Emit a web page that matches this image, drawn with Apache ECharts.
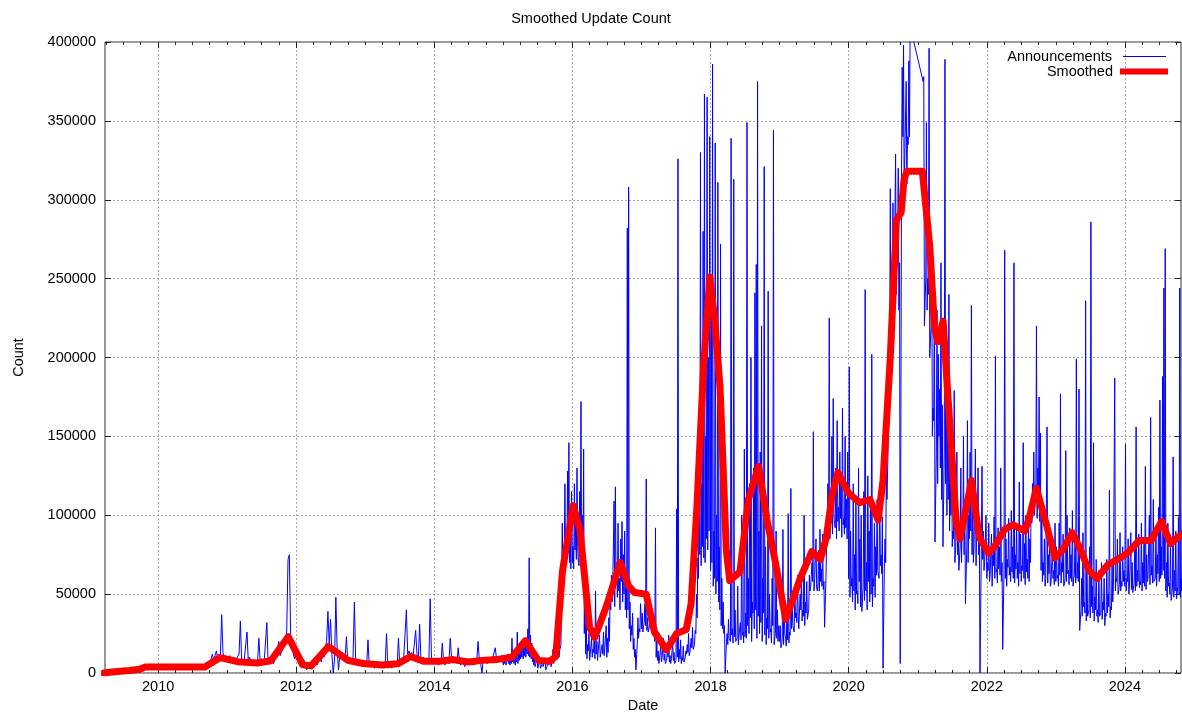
<!DOCTYPE html>
<html lang="en">
<head>
    <meta charset="UTF-8">
    <title>Smoothed Update Count</title>
    <script src="https://cdn.jsdelivr.net/npm/echarts@6/dist/echarts.min.js"></script>
    <style>
        html, body { margin: 0; padding: 0; background: #fff; }
        #box { width: 1182px; height: 716px; }
    </style>
</head>
<body>
    <div id="box"></div>
</body>
<script>
    // counts are in thousands, weekly samples (one value every 7 days)
    var blue2009 = [0.5,1.2,0.8,1.6,1.0,2.2,0.9,1.5,2.4,1.1, 1.9,0.8,1.7,2.6,1.3,2.0,1.1,2.8,1.5,2.2,
        1.2,1.8,3.0,1.4,2.3,1.6,3.2,1.9,2.5,1.3, 3.1,3.4,2.2,3.6,2.8,4.0,3.0,3.5,2.8,3.7]
    var blue2010 = [3.5,4,3,4.5,3.5,4,3,4,3.5,4.5, 3,4,3.5,4,3,4.5,4,3.5,4,3, 4.5,3.5,4,3,4,3.5,4.5,3,4,3.5,
        4,3,4.5,4,3.5,4,4.5,5,4, 6,9,12,8,11,14,9,12,10,37,13,9,11]
    var blue2011 = [9,7,11,8,6,10,7,9,8,12, 33,7,6,9,8,26,7,10,6,8, 9,6,7,8,22,6,9,5,7,8,
        32,6,8,7,9,6,8,10,9,20, 11,13,15,18,21,26,72,75,24,17, 12,9]
    var blue2012 = [14,9,6,4,3,5,8,4,2,6, 5,3,7,4,6,9,5,8,12,7, 14,10,16,20,39,18,34,12,0,8,
        48,14,2,11,9,13,8,10,23,7, 9,6,8,10,45,7,6,8,5,7, 6,5]
    var blue2013 = [6,5,21,4,6,5,7,3,5,6, 4,5,7,4,5,6,25,4,6,5, 3,6,5,7,4,22,6,8,7,10,
        9,40,12,14,11,13,10,9,27,12, 8,31,9,7,10,6,8,9,7,47, 8,6]
    var blue2014 = [7,6,9,5,8,6,19,7,5,9, 8,6,22,10,8,7,9,6,16,7, 5,8,6,4,7,5,9,6,8,7,
        5,9,7,20,8,6,0,9,7,8, 6,9,8,7,9,8,16,9,8,10, 9,11]
    var blue2015 = [9,11,8,12,10,9,22,11,13,10, 26,12,15,14,18,16,22,20,28,73, 24,19,12,8,6,9,5,7,4,8,
        6,9,3,7,8,10,6,15,9,21, 12,27,14,18,95,70,120,85,128,146, 90,115]
    var blue2016 = [80,120,95,130,70,115,172,100,142,60, 30,18,25,12,22,15,28,52,20,14, 24,11,18,26,16,30,22,35,48,62,
        55,109,118,70,95,60,85,96,75,90, 60,282,308,45,30,38,22,15,2,35, 28,44]
    var blue2017 = [38,30,44,123,35,28,40,32,26,36, 92,20,14,8,18,10,22,12,7,16, 24,11,9,19,13,6,104,326,15,21,
        10,17,8,14,18,25,13,22,29,16, 27,50,73,150,330,120,280,367,150,365, 200,340]
    var blue2018 = [250,386,90,336,100,311,80,272,60,45, 30,0,25,34,22,339,28,313,40,20, 55,24,32,100,26,142,38,349,60,120,
        200,45,130,241,259,375,90,140,220,60, 321,80,35,242,50,28,60,344,22,90, 40,30]
    var blue2019 = [30,18,91,40,22,35,101,26,117,44, 30,55,38,62,28,50,65,40,100,45, 58,34,62,55,70,153,60,85,52,78,
        91,66,88,58,29,80,120,225,110,150, 174,95,130,160,105,140,120,168,98,150, 110,140]
    var blue2020 = [194,90,60,120,75,110,52,130,85,100, 39,115,243,70,125,90,105,202,60,95, 80,110,65,120,75,99,3,85,130,110,
        180,307,220,298,250,329,280,320,260,6, 384,398,330,375,340,388,410,null,null,null, null,null]
    var blue2021 = [null,null,null,null,378,220,349,250,396,200, 272,168,250,83,230,202,180,260,170,80, 389,200,150,240,120,168,90,179,78,140,
        100,65,130,90,150,110,44,160,100,140, 233,120,80,142,95,130,85,0,131,90, 70,100]
    var blue2022 = [70,95,62,88,75,99,201,66,92,80, 130,70,15,268,85,72,98,67,103,80, 260,75,95,70,121,88,68,146,82,100,
        72,95,85,110,120,140,115,220,130,175, 152,110,70,85,60,156,75,89,57,80, 65,95]
    var blue2023 = [80,62,95,177,70,88,57,141,100,65, 92,75,103,60,85,199,70,180,27,60, 89,45,236,70,36,80,286,55,146,48,
        72,40,65,36,70,45,60,38,72,50, 116,42,68,55,187,60,85,52,89,58, 80,65]
    var blue2024 = [145,60,85,55,89,70,51,80,156,65, 88,58,95,70,84,131,75,60,100,162, 68,110,57,90,75,105,173,80,188,244,
        269,70,95,57,85,46,137,65,90,50, 99,244,60,105]

    // weekly lows of the busy years (thousands), drawn half a week before each value above
    var low2015 = [5,6,5,7,6,5,6,7,6,5, 7,6,8,9,10,9,11,10,12,11, 10,9,7,5,4,5,3,4,3,5,
        4,5,2,4,5,6,4,8,6,10, 9,12,10,14,60,65,72,68,75,80, 70,66]
    var low2016 = [70,66,78,72,80,68,75,70,62, 25,12,9,14,8,11,10,13,9,12, 8,14,10,9,12,11,15,10,13,20,
        40,45,55,42,60,48,52,40,58,45,50,40, 35,40,28,20,24,15,10,2,18,22,26]
    var low2017 = [28,26,32,30,27,26,30,28,25,29, 20,10,8,6,9,7,11,8,6,9, 10,7,6,9,8,6,8,10,7,9,
        6,8,7,10,12,13,11,14,16,15, 18,25,35,60,75,68,80,73,70,85, 78,90]
    var low2018 = [65,70,55,60,50,58,45,40,30,28, 25,0,20,18,22,20,24,19,23,20, 22,18,25,21,24,19,23,22,30,25,
        35,20,38,28,40,22,36,25,32,20, 38,24,18,28,22,26,19,30,18,25, 22,20]
    var low2019 = [20,16,22,18,25,17,21,19,24,28, 30,26,35,32,38,28,40,33,36,30, 38,34,40,52,55,58,52,60,54,57,
        52,58,55,53,29,60,82,90,85,95, 88,100,92,85,96,90,98,86,94,88, 92,85]
    var low2020 = [60,48,55,45,52,40,50,44,58,42, 39,55,46,52,40,58,45,50,42,55, 48,62,65,60,68,63,3,66,70,110,
        150,200,180,230,210,250,240,260,230,6, 320,340,300,330,310,335,340,null,null,null, null,null]
    var low2021 = [null,null,null,null,375,220,250,230,240,200, 220,150,160,83,140,120,150,130,110,80,
        140,120,100,110,90,100,80,85,70,90, 75,65,80,70,85,75,44,80,70,85, 90,75,70,80,68,85,75,0,80,72, 65,70]
    var low2022 = [60,65,58,62,55,68,60,64,57,66, 62,58,15,65,60,55,67,62,58,64, 60,57,66,60,55,63,58,65,60,56,
        64,60,58,70,95,105,100,110,98,105, 96,65,58,62,55,60,57,63,55,58, 60,56]
    var low2023 = [58,60,55,62,57,64,55,60,58,63, 56,60,58,55,62,57,60,58,27,40, 36,42,38,33,36,40,35,42,38,33,
        40,36,32,36,38,34,40,30,36,38, 42,35,40,45,55,52,58,50,56,52, 55,58]
    var low2024 = [55,52,58,50,56,53,51,57,52,55, 58,54,56,52,57,55,53,58,60,56, 62,57,58,60,55,63,58,60,62,65,
        60,52,48,55,50,46,54,48,52,47, 55,50,48,52]

    // smoothed curve, in thousands
    var smoothDates = ['2009-03-20','2009-05-01','2009-08-01','2009-09-25','2009-10-25','2010-09-05','2010-11-25',
        '2011-02-25','2011-06-10','2011-08-20','2011-11-20','2012-02-05','2012-03-20','2012-06-20','2012-10-01',
        '2012-12-20','2013-04-01','2013-06-20','2013-08-28','2013-11-05','2014-01-30','2014-04-10','2014-07-01',
        '2014-09-10','2014-11-25','2015-02-15','2015-04-27','2015-07-05','2015-09-05','2015-10-05','2015-11-10',
        '2016-01-05','2016-02-10','2016-04-01','2016-04-28','2016-06-28','2016-09-10','2016-10-25','2016-11-25',
        '2017-01-25','2017-03-10','2017-05-12','2017-07-05','2017-08-25','2017-09-20','2017-10-20','2017-11-25',
        '2017-12-28','2018-01-22','2018-02-20','2018-03-25','2018-04-12','2018-06-05','2018-07-20','2018-09-12',
        '2018-10-28','2018-12-10','2019-02-02','2019-04-20','2019-06-20','2019-08-05','2019-09-05','2019-10-05',
        '2019-11-05','2020-01-01','2020-02-28','2020-04-23','2020-06-05','2020-07-01','2020-08-08','2020-09-10',
        '2020-10-05','2020-10-20','2020-11-05','2021-01-25','2021-03-05','2021-03-30','2021-04-16','2021-05-15',
        '2021-06-17','2021-07-23','2021-08-11','2021-09-13','2021-10-12','2021-11-22','2022-01-10','2022-02-10',
        '2022-04-05','2022-05-20','2022-07-20','2022-08-15','2022-09-20','2022-11-10','2022-12-28','2023-02-06',
        '2023-03-29','2023-05-05','2023-06-25','2023-08-08','2023-10-02','2023-11-22','2024-01-15','2024-03-17',
        '2024-05-19','2024-07-13','2024-08-30','2024-10-12','2024-11-01']
    var smoothK = [0,0.6,1.6,2.4,3.8,3.8,9.8,
        7.2,6.3,7.8,23,5.2,4.5,16.8,8,
        6,5,5.8,10.5,7.5,7.5,8.5,7,
        8,8.5,10,20.5,8,7.5,10.5,65,
        106,91,29,22.5,42,70,55,51,
        50,26,14.7,25,27.5,44,104,194,
        251,225,181,78,58.6,64,110,131,
        96,70,34,60,77,72,86,112,
        127,114,108,110,97,122,199,287,
        292,313,318,318,271,220,210,223,
        161,96,85,104,122,86,76,80,
        91,94,90,99,117,95,73,78,
        89,80,65,60,68.5,72,76,84,
        84,96,82,86.5,88]

    var yearLabels = ['2010','2012','2014','2016','2018','2020','2022','2024']
    var countTicks = [0,50000,100000,150000,200000,250000,300000,350000,400000]

    var DAY = 86400000
    var font = "'Liberation Sans', Arial, sans-serif"
    var xMin = Date.UTC(2009, 2, 26)
    var xMax = Date.UTC(2024, 9, 24)

    function parseDay(s) {
        var p = s.split('-')
        return Date.UTC(+p[0], +p[1] - 1, +p[2])
    }

    // [first week start, weekly values, weekly lows or null]
    var blueParts = [
        [Date.UTC(2009, 2, 26), blue2009, null], [Date.UTC(2010, 0, 1), blue2010, null],
        [Date.UTC(2011, 0, 1), blue2011, null], [Date.UTC(2012, 0, 1), blue2012, null],
        [Date.UTC(2013, 0, 1), blue2013, null], [Date.UTC(2014, 0, 1), blue2014, null],
        [Date.UTC(2015, 0, 1), blue2015, low2015], [Date.UTC(2016, 0, 1), blue2016, low2016],
        [Date.UTC(2017, 0, 1), blue2017, low2017], [Date.UTC(2018, 0, 1), blue2018, low2018],
        [Date.UTC(2019, 0, 1), blue2019, low2019], [Date.UTC(2020, 0, 1), blue2020, low2020],
        [Date.UTC(2021, 0, 1), blue2021, low2021], [Date.UTC(2022, 0, 1), blue2022, low2022],
        [Date.UTC(2023, 0, 1), blue2023, low2023], [Date.UTC(2024, 0, 1), blue2024, low2024]
    ]
    function toCount(v) { return v == null ? null : v * 1000 }
    var announceData = []
    blueParts.forEach(function (part) {
        part[1].forEach(function (v, k) {
            var t = part[0] + k * 7 * DAY
            if (part[2]) {
                announceData.push([t, toCount(part[2][k])])
                announceData.push([t + 3.5 * DAY, toCount(v)])
            } else {
                announceData.push([t, toCount(v)])
            }
        })
    })
    var smoothData = smoothDates.map(function (d, i) { return [parseDay(d), smoothK[i] * 1000] })

    var majorTicks = yearLabels.map(function (y) { return Date.UTC(+y, 0, 1) })
    var minorTicks = []
    for (var y = 2009; y <= 2024; y++) {
        for (var m = 0; m < 12; m += 3) {
            var t = Date.UTC(y, m, 1)
            if (t > xMin && t < xMax && majorTicks.indexOf(t) < 0) minorTicks.push(t)
        }
    }

    var tickColor = '#222'
    var gridLine = { show: true, lineStyle: { color: '#a8a8a8', width: 1, type: [2, 2] } }

    // x axes are plain value axes holding UTC milliseconds
    function xAx(pos, ticks, len, main) {
        return {
            type: 'value', gridIndex: 0, position: pos, min: xMin, max: xMax,
            axisLine: { show: false },
            axisTick: { show: true, inside: true, length: len, customValues: ticks, lineStyle: { color: tickColor } },
            axisLabel: main ? {
                show: true, customValues: ticks, margin: 6, color: '#000', fontSize: 14.5, fontFamily: font,
                formatter: function (v) { return String(new Date(v).getUTCFullYear()) }
            } : { show: false },
            splitLine: main ? gridLine : { show: false },
            name: main ? 'Date' : '', nameLocation: 'middle', nameGap: 25,
            nameTextStyle: { color: '#000', fontSize: 14.5, fontFamily: font }
        }
    }

    var mEcharts = echarts.init(document.querySelector('#box'))
    var option = {
        animation: false,
        backgroundColor: '#fff',
        title: {
            text: 'Smoothed Update Count', left: 'center', top: 6,
            textStyle: { color: '#000', fontSize: 14.5, fontWeight: 'normal', fontFamily: font }
        },
        grid: {
            left: 105, right: 1, top: 42, bottom: 43, containLabel: false, outerBoundsMode: 'none',
            show: true, borderColor: '#333', borderWidth: 1
        },
        legend: [{
            data: ['Announcements'], right: 11, top: 44, align: 'right', icon: 'rect', itemWidth: 43, itemHeight: 1,
            itemStyle: { color: '#0000ff' },
            textStyle: { color: '#000', fontSize: 14.5, fontFamily: font, padding: [0, 6, 0, 0] }
        }, {
            data: ['Smoothed'], right: 9, top: 59, align: 'right', icon: 'rect', itemWidth: 48, itemHeight: 6,
            itemStyle: { color: '#ff0000' },
            textStyle: { color: '#000', fontSize: 14.5, fontFamily: font, padding: [0, 2, 0, 0] }
        }],
        xAxis: [
            xAx('bottom', majorTicks, 6, true),
            xAx('bottom', minorTicks, 3, false),
            xAx('top', majorTicks, 6, false),
            xAx('top', minorTicks, 3, false)
        ],
        yAxis: [{
            type: 'value', min: 0, max: 400000, interval: 50000, position: 'left',
            axisLine: { show: false },
            axisTick: { show: true, inside: true, length: 6, lineStyle: { color: tickColor } },
            axisLabel: {
                margin: 9, color: '#000', fontSize: 14.5, fontFamily: font,
                formatter: function (v) { return countTicks.indexOf(v) >= 0 ? String(v) : '' }
            },
            splitLine: gridLine,
            name: 'Count', nameLocation: 'middle', nameGap: 79, nameRotate: 90,
            nameTextStyle: { color: '#000', fontSize: 14.5, fontFamily: font }
        }, {
            type: 'value', min: 0, max: 400000, interval: 50000, position: 'right',
            axisLine: { show: false },
            axisTick: { show: true, inside: true, length: 6, lineStyle: { color: tickColor } },
            axisLabel: { show: false },
            splitLine: { show: false }
        }],
        series: [{
            name: 'Announcements',
            type: 'line',
            xAxisIndex: 0, yAxisIndex: 0,
            data: announceData,
            symbol: 'none',
            connectNulls: true,
            lineStyle: { color: '#0000ff', width: 1 },
            itemStyle: { color: '#0000ff' },
            z: 2
        }, {
            name: 'Smoothed',
            type: 'line',
            xAxisIndex: 0, yAxisIndex: 0,
            data: smoothData,
            symbol: 'none',
            lineStyle: { color: '#ff0000', width: 7, cap: 'round', join: 'round' },
            itemStyle: { color: '#ff0000' },
            z: 3
        }]
    }
    mEcharts.setOption(option)
</script>
</html>
